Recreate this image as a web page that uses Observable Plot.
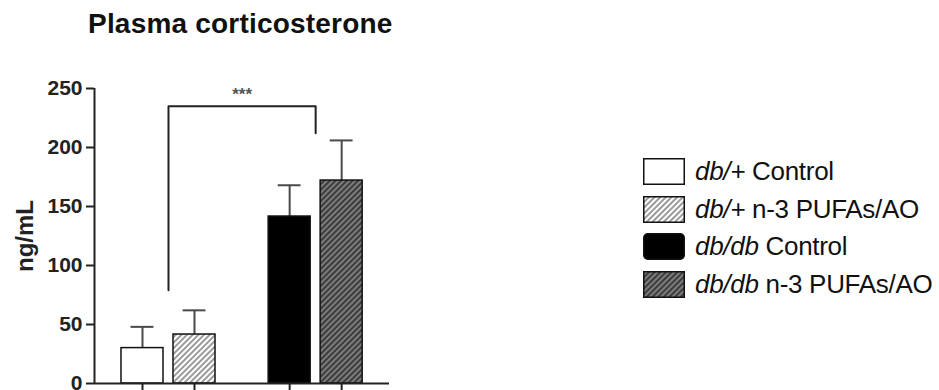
<!DOCTYPE html>
<html><head><meta charset="utf-8">
<script src="https://cdn.jsdelivr.net/npm/d3@7"></script>
<script src="https://cdn.jsdelivr.net/npm/@observablehq/plot@0.6"></script>
<style>
body{margin:0;background:#fff;font-family:"Liberation Sans",Arial,sans-serif;}
#wrap{position:relative;width:939px;height:390px;overflow:hidden;background:#fff}
#title{position:absolute;left:88px;top:8px;font-size:28px;font-weight:bold;color:#111;white-space:nowrap;letter-spacing:0.2px}
#chart{position:absolute;left:0;top:0}
#legend{position:absolute;left:643px;top:152.75px}
.row{display:flex;align-items:center;height:37.5px}
.lt{font-size:26px;color:#111;white-space:nowrap;letter-spacing:-0.3px}
.lt i{font-style:italic}
</style></head>
<body>
<svg width="0" height="0" style="position:absolute">
  <defs>
    <pattern id="hatchLight" width="4" height="4" patternUnits="userSpaceOnUse" patternTransform="rotate(45)">
      <rect width="4" height="4" fill="#fff"/>
      <line x1="1" y1="0" x2="1" y2="4" stroke="#9a9a9a" stroke-width="2"/>
    </pattern>
    <pattern id="hatchDark" width="4" height="4" patternUnits="userSpaceOnUse" patternTransform="rotate(45)">
      <rect width="4" height="4" fill="#7c7c7c"/>
      <line x1="1" y1="0" x2="1" y2="4" stroke="#3c3c3c" stroke-width="2"/>
    </pattern>
  </defs>
</svg>
<div id="wrap">
  <div id="chart"></div>
  <div id="title">Plasma corticosterone</div>
  <div id="legend"></div>
</div>
<script>
// ---- data ----
const genotypes = ["db/+", "db/+", "db/db", "db/db"];
const treatments = ["Control", "n-3 PUFAs/AO", "Control", "n-3 PUFAs/AO"];
const means = [30, 41.5, 141.5, 172];
const sems = [18, 20.5, 26.5, 34];
const yTicks = [0, 50, 100, 150, 200, 250];
const sigLabel = "***";
const sigBracketTop = 235;
const sigBracketLeftEnd = 79;
const sigBracketRightEnd = 212;
const yLabel = "ng/mL";

// ---- styling / layout ----
const keys = genotypes.map((g, i) => g + " " + treatments[i]);
const fillRange = ["#ffffff", "url(#hatchLight)", "#000000", "url(#hatchDark)"];
const groupStep = 2.83;
const groupNames = [...new Set(genotypes)];
const data = means.map((m, i) => {
  const gi = groupNames.indexOf(genotypes[i]);
  const j = genotypes.slice(0, i).filter(g => g === genotypes[i]).length;
  return {key: keys[i], mean: m, top: m + sems[i], pos: gi * groupStep + j};
});
const halfBar = 0.404, halfCap = 0.22;
const xDomain = [-0.923, 4.75];
const leftX = (data[0].pos + data[1].pos) / 2;
const rightX = (data[2].pos + data[3].pos) / 2;
const bracket = [
  {x: leftX, y: sigBracketLeftEnd},
  {x: leftX, y: sigBracketTop},
  {x: rightX, y: sigBracketTop},
  {x: rightX, y: sigBracketRightEnd}
];

const chart = Plot.plot({
  width: 939, height: 390,
  marginLeft: 94, marginRight: 550, marginTop: 88, marginBottom: 7,
  style: {fontFamily: "'Liberation Sans', Arial, sans-serif", fontSize: "20px", fontWeight: "bold", color: "#222", background: "transparent"},
  x: {domain: xDomain, axis: null},
  y: {domain: [0, 250], axis: null},
  color: {type: "ordinal", domain: keys, range: fillRange},
  marks: [
    Plot.axisY({ticks: yTicks, tickSize: 8, tickPadding: 4, strokeWidth: 2, label: null, fontSize: 21}),
    Plot.text([yLabel], {frameAnchor: "left", textAnchor: "middle", rotate: -90, dx: -69, dy: 0, text: d => d, fontSize: 24, fontWeight: "bold", fill: "#222"}),
    Plot.axisX({ticks: data.map(d => d.pos), tickSize: 7, tickFormat: () => "", strokeWidth: 2, label: null}),
    Plot.ruleX(data, {x: "pos", y1: "mean", y2: "top", stroke: "#4a4a4a", strokeWidth: 2}),
    Plot.ruleY(data, {y: "top", x1: d => d.pos - halfCap, x2: d => d.pos + halfCap, stroke: "#4a4a4a", strokeWidth: 2}),
    Plot.rectY(data, {x1: d => d.pos - halfBar, x2: d => d.pos + halfBar, y1: 0, y2: "mean", fill: "key", stroke: "#111", strokeWidth: 1.5}),
    Plot.ruleY([0], {stroke: "#222", strokeWidth: 2}),
    Plot.ruleX([xDomain[0]], {y1: 0, y2: 250, stroke: "#222", strokeWidth: 2}),
    Plot.line(bracket, {x: "x", y: "y", stroke: "#222", strokeWidth: 2}),
    Plot.text([sigLabel], {x: (leftX + rightX) / 2, y: sigBracketTop, text: d => d, dy: -12, fontSize: 17, fill: "#555"})
  ]
});
document.getElementById("chart").appendChild(chart);

// ---- legend ----
const legend = document.getElementById("legend");
keys.forEach((k, i) => {
  const row = document.createElement("div");
  row.className = "row";
  const sw = document.createElementNS("http://www.w3.org/2000/svg", "svg");
  sw.setAttribute("width", 42); sw.setAttribute("height", 27);
  sw.style.marginRight = "10px"; sw.style.flex = "none";
  const r = document.createElementNS("http://www.w3.org/2000/svg", "rect");
  r.setAttribute("x", 0.75); r.setAttribute("y", 0.75);
  r.setAttribute("width", 40.5); r.setAttribute("height", 25.5);
  r.setAttribute("rx", i === 2 ? 4 : 0);
  r.setAttribute("fill", fillRange[i]);
  r.setAttribute("stroke", "#111"); r.setAttribute("stroke-width", 1.5);
  sw.appendChild(r);
  const t = document.createElement("span");
  t.className = "lt";
  const it = document.createElement("i");
  it.textContent = genotypes[i];
  t.appendChild(it);
  t.appendChild(document.createTextNode(" " + treatments[i]));
  row.appendChild(sw); row.appendChild(t);
  legend.appendChild(row);
});
</script>
</body></html>
